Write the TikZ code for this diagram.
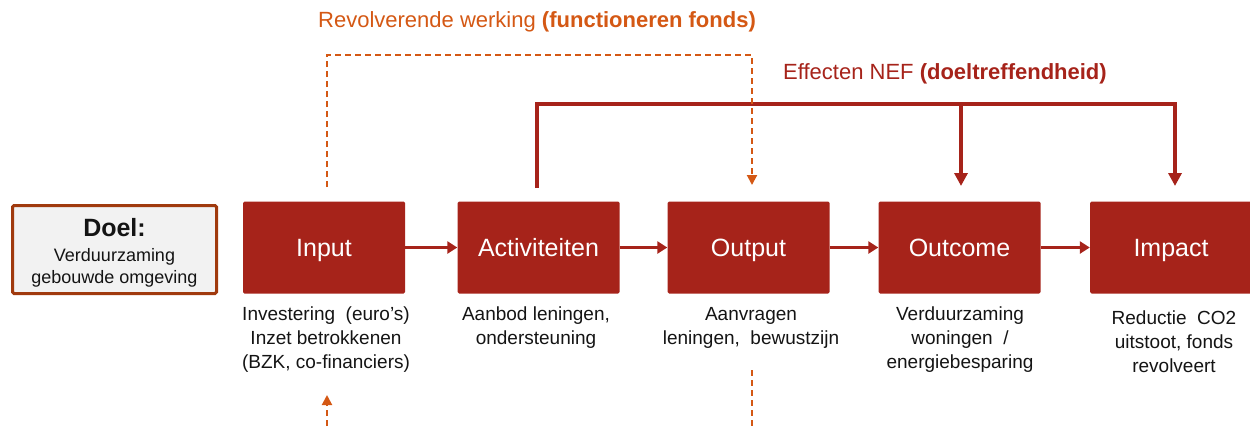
\documentclass[tikz,border=0pt]{standalone}
\usepackage{fontspec}
\setmainfont{Liberation Sans}
\usetikzlibrary{arrows.meta}
\definecolor{boxred}{RGB}{166,35,26}
\definecolor{dorange}{RGB}{212,88,20}
\definecolor{doelbrd}{RGB}{160,58,14}
\definecolor{doelfill}{RGB}{242,242,242}
\definecolor{txt}{RGB}{20,20,20}
\begin{document}
\begin{tikzpicture}[x=1pt,y=-1pt,
  stage/.style={fill=boxred, draw=none, rounded corners=1.5pt, minimum width=162pt,
    minimum height=92pt, text=white, font=\fontsize{25}{30}\selectfont, inner sep=0pt,
    text height=18pt, text depth=0pt},
  lbl/.style={align=center, font=\fontsize{19}{24}\selectfont, anchor=north, inner sep=0pt, text=txt},
  flow/.style={draw=boxred, line width=3pt, -{Triangle[length=10pt,width=12pt]}},
  eff/.style={draw=boxred, line width=4pt, line join=miter},
  efftip/.style={eff, -{Triangle[length=13pt,width=13pt]}},
  rev/.style={draw=dorange, line width=2pt, dash pattern=on 6pt off 4pt},
  revtip/.style={rev, -{Triangle[length=10pt,width=10pt]}},
  title/.style={anchor=west, inner sep=0pt, font=\fontsize{22}{26}\selectfont}]
\useasboundingbox (0,0) rectangle (1250,426);

% goal box
\node[draw=doelbrd, line width=3pt, fill=doelfill, rounded corners=1.5pt,
  minimum width=204pt, minimum height=88pt, inner sep=0pt]
  (doel) at (114.5,249.5) {};
\node[inner sep=0pt, align=center, text=txt, font=\fontsize{18}{22}\selectfont]
  (doeltext) at (114.5,253)
  {{\fontsize{25}{27}\selectfont\bfseries Doel:}\\[3pt]
   Verduurzaming\\
   gebouwde omgeving};

% stages
\node[stage] (inp)  at (324,247.5)   {Input};
\node[stage] (act)  at (538.5,247.5) {Activiteiten};
\node[stage] (outp) at (748.5,247.5) {Output};
\node[stage] (outc) at (959.5,247.5) {Outcome};
\node[stage] (imp)  at (1171,247.5)  {Impact};

% flow arrows
\draw[flow] (inp) -- (act);
\draw[flow] (act) -- (outp);
\draw[flow] (outp) -- (outc);
\draw[flow] (outc) -- (imp);

% labels below
\node[lbl] (linp)  at (326,307)  {Investering~ (euro's)\\Inzet betrokkenen\\(BZK, co-financiers)};
\node[lbl] (lact)  at (536,307)  {Aanbod leningen,\\ondersteuning};
\node[lbl] (loutp) at (751,307)  {Aanvragen\\leningen,~ bewustzijn};
\node[lbl] (loutc) at (960,307)  {Verduurzaming\\woningen~ /\\energiebesparing};
\node[lbl] (limp)  at (1174,311) {Reductie~ CO2\\uitstoot, fonds\\revolveert};

% titles
\node[title, text=dorange] (trev) at (318,22) {Revolverende werking \textbf{(functioneren fonds)}};
\node[title, text=boxred] (teff) at (783,74) {Effecten NEF \textbf{(doeltreffendheid)}};

% effect lines
\coordinate (e0) at (537,188);
\coordinate (e1) at (537,104);
\coordinate (e2) at (1175,104);
\coordinate (e3) at (1175,186);
\coordinate (b1) at (961,104);
\coordinate (b2) at (961,186);
\draw[efftip] (e0) -- (e1) -- (e2) -- (e3);
\draw[efftip] (b1) -- (b2);

% revolving lines
\coordinate (r0) at (327,187);
\coordinate (r1) at (327,55);
\coordinate (r2) at (752,55);
\coordinate (r3) at (752,185);
\draw[revtip] (r0) -- (r1) -- (r2) -- (r3);
\coordinate (s0) at (327,426);
\coordinate (s1) at (327,395);
\draw[revtip] (s0) -- (s1);
\coordinate (t0) at (752,370);
\coordinate (t1) at (752,426);
\draw[rev] (t0) -- (t1);
\end{tikzpicture}
\end{document}
